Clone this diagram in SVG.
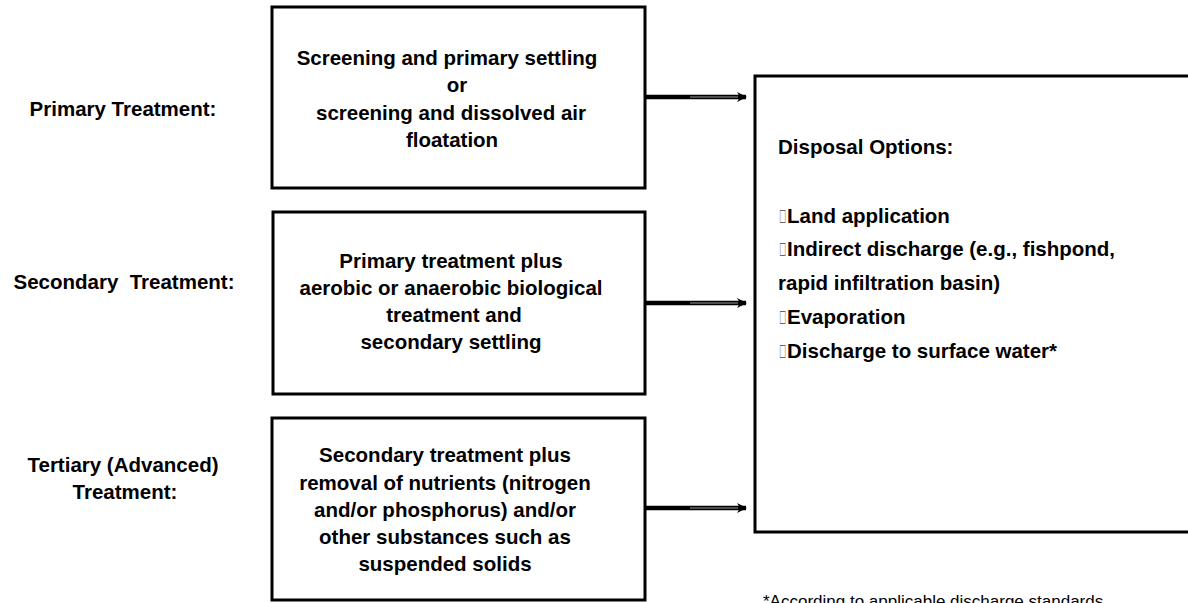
<svg xmlns="http://www.w3.org/2000/svg" width="1188" height="603" viewBox="0 0 1188 603">
<defs>
<style>
.box{fill:#fff;stroke:#000;stroke-width:3}
.t{font-family:"Liberation Sans",Arial,sans-serif;font-weight:bold;font-size:20.5px;fill:#000}
.c{text-anchor:middle}
.lbl{text-anchor:middle;white-space:pre}
.bul{font-family:"Liberation Sans",Arial,sans-serif;font-size:19px;fill:#444}
.note{font-family:"Liberation Sans",Arial,sans-serif;font-size:17px;fill:#000}
.shaft{stroke:#000;stroke-width:4.5;fill:none}
.inner{stroke:#9a9a9a;stroke-width:1;fill:none}
</style>
<marker id="ah" viewBox="0 0 10 10" refX="9" refY="5" markerWidth="10" markerHeight="10" markerUnits="userSpaceOnUse" orient="auto">
<path d="M0,0 L10,5 L0,10 L3,5 Z" fill="#000"/>
</marker>
</defs>
<rect width="1188" height="603" fill="#fff"/>

<g id="label-primary">
<text class="t lbl" x="123" y="116">Primary Treatment:</text>
</g>
<g id="label-secondary">
<text class="t lbl" x="124" y="289" xml:space="preserve">Secondary  Treatment:</text>
</g>
<g id="label-tertiary">
<text class="t lbl" x="123" y="472">Tertiary (Advanced)</text>
<text class="t lbl" x="125" y="499">Treatment:</text>
</g>

<g id="node-primary">
<rect class="box" x="272" y="7" width="373" height="181"/>
<text class="t c" x="447" y="65">Screening and primary settling</text>
<text class="t c" x="457" y="92">or</text>
<text class="t c" x="451" y="120">screening and dissolved air</text>
<text class="t c" x="452" y="147">floatation</text>
</g>

<g id="node-secondary">
<rect class="box" x="273" y="212" width="372" height="182"/>
<text class="t c" x="451" y="268">Primary treatment plus</text>
<text class="t c" x="451" y="295">aerobic or anaerobic biological</text>
<text class="t c" x="454" y="322">treatment and</text>
<text class="t c" x="451" y="349">secondary settling</text>
</g>

<g id="node-tertiary">
<rect class="box" x="272" y="418" width="373" height="182"/>
<text class="t c" x="445" y="462">Secondary treatment plus</text>
<text class="t c" x="445" y="490">removal of nutrients (nitrogen</text>
<text class="t c" x="445" y="517">and/or phosphorus) and/or</text>
<text class="t c" x="445" y="544">other substances such as</text>
<text class="t c" x="445" y="571">suspended solids</text>
</g>

<g id="node-disposal">
<rect class="box" x="755" y="76" width="436" height="456"/>
<text class="t" x="778" y="154">Disposal Options:</text>
<text class="bul" transform="translate(779,223) scale(0.5,1)">&#xF0A7;</text>
<text class="t" x="787" y="223">Land application</text>
<text class="bul" transform="translate(779,256) scale(0.5,1)">&#xF0A7;</text>
<text class="t" x="787" y="256">Indirect discharge (e.g., fishpond,</text>
<text class="t" x="778" y="290">rapid infiltration basin)</text>
<text class="bul" transform="translate(779,324) scale(0.5,1)">&#xF0A7;</text>
<text class="t" x="787" y="324">Evaporation</text>
<text class="bul" transform="translate(779,358) scale(0.5,1)">&#xF0A7;</text>
<text class="t" x="787" y="358">Discharge to surface water*</text>
</g>

<g id="connectors">
<line class="shaft" x1="646" y1="97" x2="746" y2="97" marker-end="url(#ah)"/>
<line class="inner" x1="690" y1="97" x2="738" y2="97"/>
<line class="shaft" x1="646" y1="303" x2="746" y2="303" marker-end="url(#ah)"/>
<line class="inner" x1="690" y1="303" x2="738" y2="303"/>
<line class="shaft" x1="646" y1="508" x2="746" y2="508" marker-end="url(#ah)"/>
<line class="inner" x1="690" y1="508" x2="738" y2="508"/>
</g>

<g id="footnote">
<text class="note" x="763" y="607">*According to applicable discharge standards</text>
</g>
</svg>
